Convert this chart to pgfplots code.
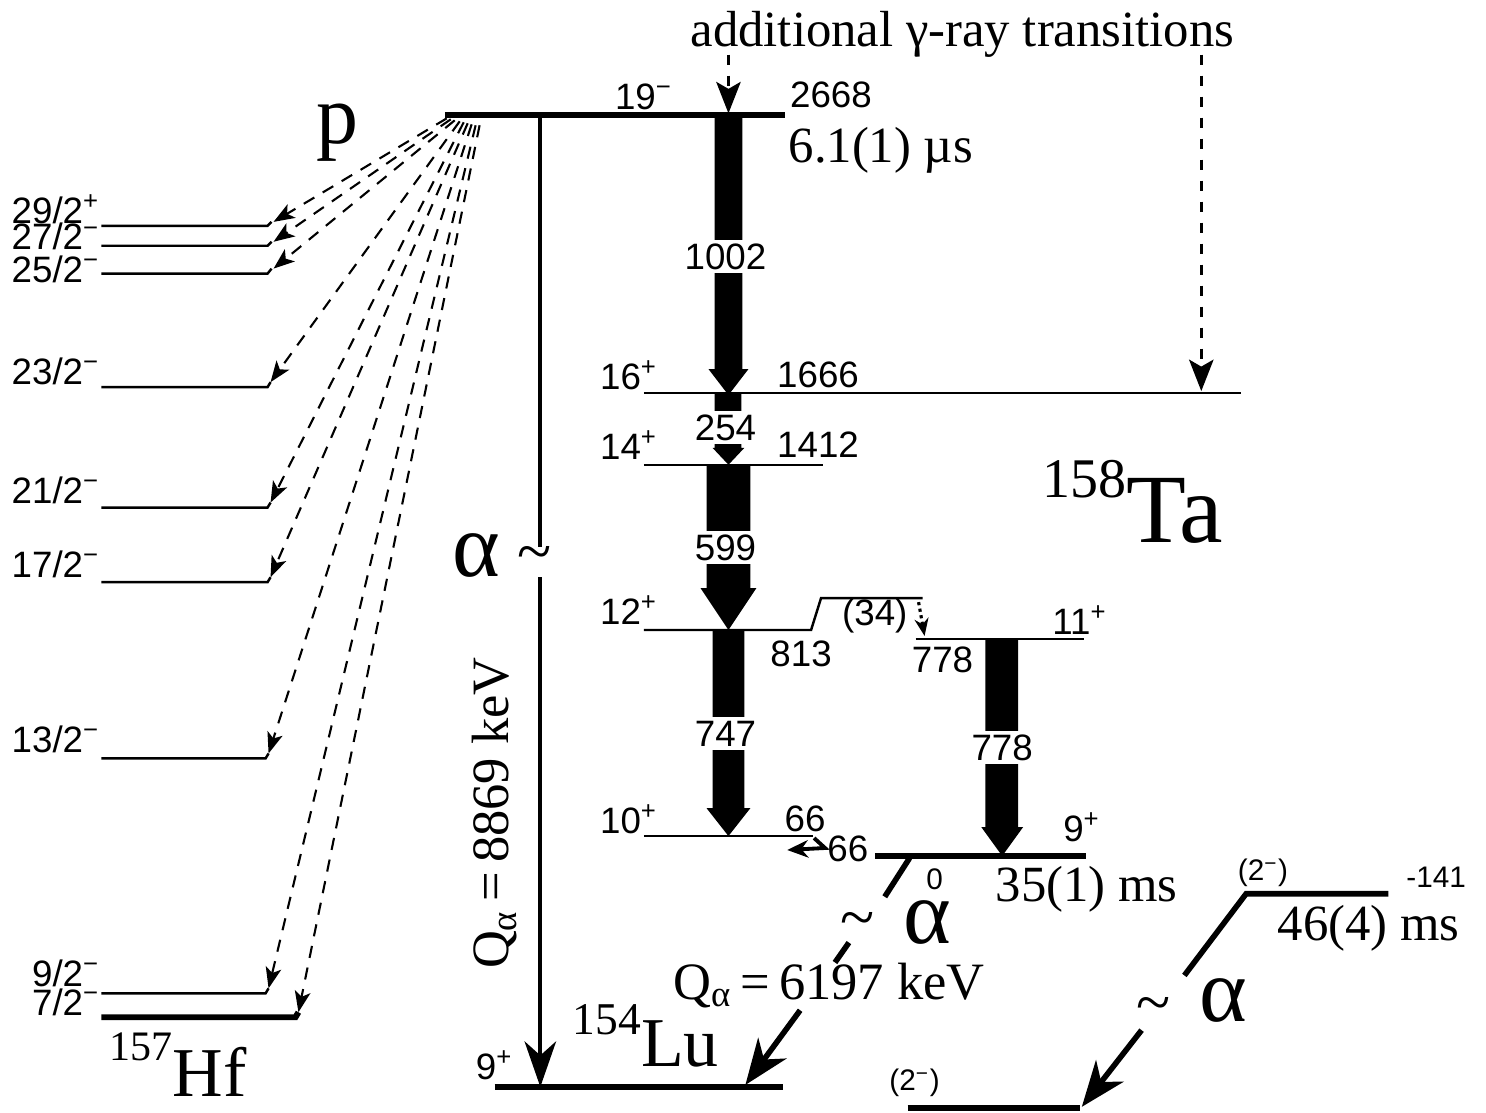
\documentclass[border=0pt]{standalone}
\usepackage{fontspec}
\setmainfont{Liberation Serif}
\newfontfamily\hv{Liberation Sans}
\usepackage{pgfplots}
\pgfplotsset{compat=1.18}
\usetikzlibrary{arrows.meta}
\newcommand{\lab}[1]{{\hv\fontsize{10.5}{12}\selectfont #1}}
\newcommand{\slab}[1]{{\hv\fontsize{8.5}{10}\selectfont #1}}
\newcommand{\tm}[1]{{\fontsize{14.5}{16}\selectfont #1}}
\newcommand{\bigal}[1]{{\fontsize{26}{28}\selectfont #1}}
\newcommand{\supr}{\textsuperscript}
\begin{document}
\begin{tikzpicture}
\begin{axis}[width=14.86cm,height=11.13cm,scale only axis,
  xmin=0,xmax=1486,ymin=0,ymax=1113,y dir=reverse,hide axis,clip=false]
\addplot[draw=none] coordinates {(0,0) (1486,1113)};
% ---------- 158Ta levels ----------
\addplot[line width=1.7pt] coordinates {(440,111) (782,111)};
\addplot[line width=0.7pt] coordinates {(640,390) (1240,390)};
\addplot[line width=0.7pt] coordinates {(640,462) (820,462)};
\addplot[line width=0.7pt] coordinates {(640,628) (808,628) (818,596) (920,596)};
\addplot[line width=0.7pt] coordinates {(913,637) (1082,637)};
\addplot[line width=0.7pt] coordinates {(640,835) (810,835)};
\addplot[line width=1.7pt] coordinates {(872,855) (1084,855)};
% ---------- gamma arrows ----------
\addplot[fill=black,draw=none] coordinates {(711,111) (739,111) (739,366) (745,366) (725,392) (705,366) (711,366)} --cycle;
\addplot[fill=black,draw=none] coordinates {(711,390) (738,390) (738,445) (741,445) (725,462) (709,445) (711,445)} --cycle;
\addplot[fill=black,draw=none] coordinates {(703,462) (747,462) (747,586) (753,586) (725,628) (697,586) (703,586)} --cycle;
\addplot[fill=black,draw=none] coordinates {(709,628) (741,628) (741,807) (747,807) (725,835) (703,807) (709,807)} --cycle;
\addplot[fill=black,draw=none] coordinates {(983,637) (1016,637) (1016,826) (1021,826) (1000,855) (979,826) (983,826)} --cycle;
\addplot[densely dotted,line width=0.9pt,-{Stealth[length=5pt,width=4pt]}] coordinates {(916,600) (922,634)};
\addplot[line width=1.1pt,-{Stealth[length=6pt,width=5pt]}] coordinates {(811,837) (822,847) (784,849)};
% additional transitions
\addplot[dashed,line width=0.7pt,-{Stealth[length=9pt,width=7pt,inset=2pt]}] coordinates {(725,50) (725,109)};
\addplot[dashed,line width=0.7pt,-{Stealth[length=9pt,width=7pt,inset=2pt]}] coordinates {(1200,50) (1200,388)};
% ---------- alpha decays ----------
\addplot[line width=1.2pt] coordinates {(536,111) (536,545)};
\addplot[line width=1.2pt,-{Stealth[length=13pt,width=9pt,inset=4pt]}] coordinates {(536,575) (536,1087)};
\addplot[line width=1.6pt] coordinates {(907,857) (882,896)};
\addplot[line width=1.6pt] coordinates {(846,942) (832,962)};
\addplot[line width=1.6pt,-{Stealth[length=13pt,width=10pt,inset=4pt]}] coordinates {(797,1010) (742,1085)};
\addplot[line width=1.6pt] coordinates {(1388,893) (1245,893) (1183,975)};
\addplot[line width=1.6pt,-{Stealth[length=13pt,width=10pt,inset=4pt]}] coordinates {(1140,1030) (1080,1107)};
% daughter levels
\addplot[line width=1.7pt] coordinates {(490,1087) (780,1087)};
\addplot[line width=1.7pt] coordinates {(905,1108) (1078,1108)};
% ---------- 157Hf levels ----------
\addplot[line width=0.7pt] coordinates {(95,222) (262,222) (266,218)};
\addplot[line width=0.7pt] coordinates {(95,242) (262,242) (266,238)};
\addplot[line width=0.7pt] coordinates {(95,270) (262,270) (266,265)};
\addplot[line width=0.7pt] coordinates {(95,384) (262,384) (265,379)};
\addplot[line width=0.7pt] coordinates {(95,505) (262,505) (265,500)};
\addplot[line width=0.7pt] coordinates {(95,580) (262,580) (265,575)};
\addplot[line width=0.7pt] coordinates {(95,757) (260,757) (263,752)};
\addplot[line width=0.7pt] coordinates {(95,993) (260,993) (263,988)};
\addplot[line width=1.7pt] coordinates {(95,1017) (290,1017) (293,1012)};
% proton branches
\pgfplotsset{pst/.style={line width=0.6pt,dash pattern=on 3.5pt off 2.8pt,-{Stealth[length=6pt,width=4.5pt,inset=1.5pt]}}}
\addplot[pst] coordinates {(442,114) (268,218)};
\addplot[pst] coordinates {(446,115) (268,238)};
\addplot[pst] coordinates {(450,116) (268,265)};
\addplot[pst] coordinates {(455,117) (265,379)};
\addplot[pst] coordinates {(459,118) (265,500)};
\addplot[pst] coordinates {(463,119) (265,575)};
\addplot[pst] coordinates {(467,120) (263,752)};
\addplot[pst] coordinates {(471,121) (263,988)};
\addplot[pst] coordinates {(475,121) (293,1012)};
% ---------- texts ----------
\node at (960,30) {\tm{additional γ-ray transitions}};
\node at (640,92) {\lab{19\supr{−}}};
\node at (828,90) {\lab{2668}};
\node at (878,146) {\tm{6.1(1) µs}};
\node at (332,128) {\fontsize{24}{26}\selectfont p};
\node[fill=white,inner sep=1pt] at (722,253) {\lab{1002}};
\node at (625,372) {\lab{16\supr{+}}};
\node at (815,372) {\lab{1666}};
\node[fill=white,inner sep=1pt] at (722,425) {\lab{254}};
\node at (625,442) {\lab{14\supr{+}}};
\node at (815,442) {\lab{1412}};
\node[fill=white,inner sep=1pt] at (722,545) {\lab{599}};
\node at (625,608) {\lab{12\supr{+}}};
\node at (798,652) {\lab{813}};
\node at (872,614) {\lab{(34)}};
\node at (1078,618) {\lab{11\supr{+}}};
\node at (940,658) {\lab{778}};
\node[fill=white,inner sep=1pt] at (722,732) {\lab{747}};
\node[fill=white,inner sep=1pt] at (1000,746) {\lab{778}};
\node at (625,818) {\lab{10\supr{+}}};
\node at (802,818) {\lab{66}};
\node at (845,848) {\lab{66}};
\node at (1080,826) {\lab{9\supr{+}}};
\node at (932,878) {\slab{0}};
\node at (1085,888) {\tm{35(1) ms}};
\node[anchor=base west,inner sep=0pt] at (1040,540) {\fontsize{16}{18}\selectfont\raisebox{12.8pt}{158}\fontsize{28}{30}\selectfont Ta};
\node at (472,553) {\bigal{α}};
\node at (530,557) {\fontsize{18}{20}\selectfont\textasciitilde};
\node[rotate=90] at (490,812) {\fontsize{15}{17}\selectfont Q\textsubscript{α}\,=\,8869 keV};
\node at (925,922) {\bigal{α}};
\node at (855,925) {\fontsize{18}{20}\selectfont\textasciitilde};
\node at (826,985) {\fontsize{15}{17}\selectfont Q\textsubscript{α}\,=\,6197 keV};
\node[anchor=base west,inner sep=0pt] at (568,1066) {\fontsize{13}{15}\selectfont\raisebox{9pt}{154}\fontsize{20}{22}\selectfont Lu};
\node at (490,1065) {\lab{9\supr{+}}};
\node at (1262,872) {\slab{(2\supr{−})}};
\node at (1436,876) {\slab{-141}};
\node at (1368,928) {\tm{46(4) ms}};
\node at (1152,1010) {\fontsize{18}{20}\selectfont\textasciitilde};
\node at (1222,1000) {\bigal{α}};
\node at (912,1083) {\slab{(2\supr{−})}};
% Hf labels
\node[anchor=east] at (106,205) {\lab{29/2\supr{+}}};
\node[anchor=east] at (106,233) {\lab{27/2\supr{−}}};
\node[anchor=east] at (106,266) {\lab{25/2\supr{−}}};
\node[anchor=east] at (106,368) {\lab{23/2\supr{−}}};
\node[anchor=east] at (106,488) {\lab{21/2\supr{−}}};
\node[anchor=east] at (106,562) {\lab{17/2\supr{−}}};
\node[anchor=east] at (106,738) {\lab{13/2\supr{−}}};
\node[anchor=east] at (106,973) {\lab{9/2\supr{−}}};
\node[anchor=east] at (106,1002) {\lab{7/2\supr{−}}};
\node[anchor=base west,inner sep=0pt] at (103,1097) {\fontsize{12}{14}\selectfont\raisebox{10.5pt}{157}\fontsize{20}{22}\selectfont Hf};
\end{axis}
\end{tikzpicture}
\end{document}
